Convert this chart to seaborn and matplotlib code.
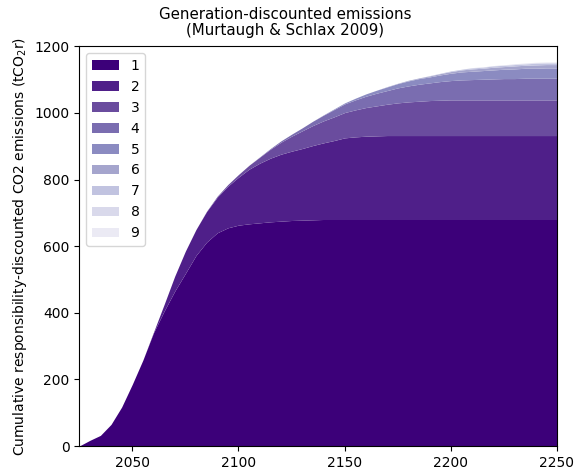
import matplotlib
matplotlib.use("Agg")
import matplotlib.pyplot as plt
import seaborn as sns

# Years on the horizontal axis (5-year steps)
years = list(range(2025, 2251, 5))

# Emissions attributed to each generation (layer thickness, tCO2r)
gen1 = [0, 17, 32, 65, 117, 185, 258, 340, 405, 465, 518, 572, 612, 640, 655, 663,
        667, 670, 673, 675, 677, 678, 679, 680, 680, 680, 680, 680, 680, 680, 680, 680,
        680, 680, 680, 680, 680, 680, 680, 680, 680, 680, 680, 680, 680, 680]
gen2 = [0, 0, 0, 0, 0, 0, 0, 2, 20, 45, 67, 78, 92, 107, 125, 144,
        164, 179, 191, 201, 208, 215, 223, 230, 237, 245, 248, 250, 251, 252, 252, 252,
        252, 252, 252, 252, 252, 252, 252, 252, 252, 252, 252, 252, 252, 252]
gen3 = [0, 0, 0, 0, 0, 0, 0, 0, 0, 0, 0, 0, 1, 3, 5, 8,
        12, 18, 27, 36, 45, 53, 60, 66, 71, 76, 81, 86, 90, 94, 98, 101,
        103, 105, 106, 107, 107, 107, 107, 107, 107, 107, 107, 107, 107, 107]
gen4 = [0, 0, 0, 0, 0, 0, 0, 0, 0, 0, 0, 0, 0, 0, 0, 0,
        0, 1, 2, 4, 6, 9, 13, 17, 22, 26, 30, 34, 38, 41, 45, 48,
        51, 53, 56, 58, 60, 61, 62, 63, 64, 64, 65, 65, 65, 65]
gen5 = [0, 0, 0, 0, 0, 0, 0, 0, 0, 0, 0, 0, 0, 0, 0, 0,
        0, 0, 0, 0, 0, 0, 0, 1, 2, 3, 5, 7, 9, 11, 13, 15,
        17, 18, 20, 22, 24, 25, 26, 27, 28, 29, 30, 30, 31, 31]
gen6 = [0, 0, 0, 0, 0, 0, 0, 0, 0, 0, 0, 0, 0, 0, 0, 0,
        0, 0, 0, 0, 0, 0, 0, 0, 0, 0, 0, 0, 0, 1, 1, 2,
        2, 3, 4, 5, 6, 7, 7, 8, 8, 9, 9, 10, 10, 10]
gen7 = [0, 0, 0, 0, 0, 0, 0, 0, 0, 0, 0, 0, 0, 0, 0, 0,
        0, 0, 0, 0, 0, 0, 0, 0, 0, 0, 0, 0, 0, 0, 0, 0,
        0, 1, 1, 2, 2, 3, 3, 4, 4, 4, 4, 5, 5, 5]
gen8 = [0, 0, 0, 0, 0, 0, 0, 0, 0, 0, 0, 0, 0, 0, 0, 0,
        0, 0, 0, 0, 0, 0, 0, 0, 0, 0, 0, 0, 0, 0, 0, 0,
        0, 0, 0, 0, 0, 1, 1, 1, 1, 2, 2, 2, 2, 2]
gen9 = [0, 0, 0, 0, 0, 0, 0, 0, 0, 0, 0, 0, 0, 0, 0, 0,
        0, 0, 0, 0, 0, 0, 0, 0, 0, 0, 0, 0, 0, 0, 0, 0,
        0, 0, 0, 0, 0, 0, 0, 0, 0.5, 0.5, 1, 1, 1, 1]

labels = ["1", "2", "3", "4", "5", "6", "7", "8", "9"]
colors = ["#3c0079", "#4f1f89", "#6a4c9e", "#7a6db0", "#8b8bc1",
          "#a5a5cd", "#c1c3e0", "#d9d9eb", "#ebeaf4"]

sns.set_theme(style="ticks")
plt.rcParams["font.family"] = ["DejaVu Sans"]
plt.rcParams["text.color"] = "black"
plt.rcParams["axes.labelcolor"] = "black"

fig = plt.figure(figsize=(5.82, 4.72), dpi=100)
ax = fig.add_axes([0.136, 0.055, 0.821, 0.847])

ax.stackplot(years, gen1, gen2, gen3, gen4, gen5, gen6, gen7, gen8, gen9,
             labels=labels, colors=colors, linewidth=0)

ax.set_xlim(2025, 2250)
ax.set_ylim(0, 1200)
ax.set_xticks([2050, 2100, 2150, 2200, 2250])
ax.set_yticks(range(0, 1201, 200))
ax.tick_params(labelsize=10, length=3.5, width=0.8, colors="black")
for side in ["top", "right", "left", "bottom"]:
    ax.spines[side].set_visible(True)
    ax.spines[side].set_color("black")
    ax.spines[side].set_linewidth(0.8)

fig.text(0.49, 0.986, "Generation-discounted emissions\n(Murtaugh & Schlax 2009)",
         ha="center", va="top", fontsize=10.8, linespacing=1.1, color="black")
ax.set_ylabel("Cumulative responsibility-discounted CO2 emissions (tCO$_2$r)",
              fontsize=10, labelpad=4, color="black")

leg = ax.legend(loc="upper left", fontsize=10, frameon=True, fancybox=True,
                framealpha=0.8, edgecolor="#cccccc")
for t in leg.get_texts():
    t.set_color("black")

fig.savefig("out.png", dpi=100)
